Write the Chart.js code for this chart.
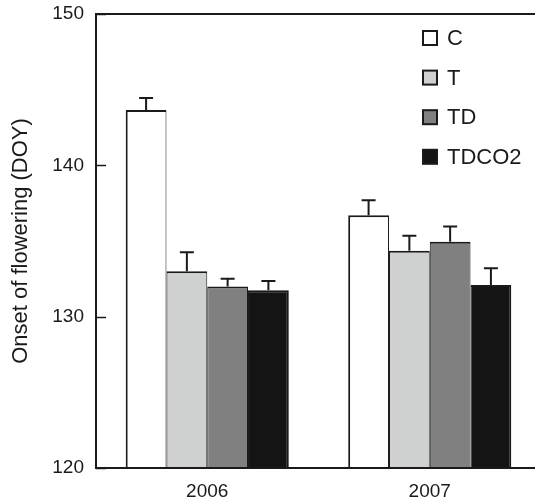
<!DOCTYPE html>
<html>
<head>
<meta charset="utf-8">
<script src="https://cdn.jsdelivr.net/npm/chart.js@4/dist/chart.umd.min.js"></script>
<style>
  html, body { margin: 0; padding: 0; background: #fff; overflow: hidden; }
  #wrap { width: 545px; height: 501px; }
</style>
</head>
<body>
<div id="wrap"><canvas id="flowering"></canvas></div>
<script>
var years = ['2006', '2007'];
var seriesNames = ['C', 'T', 'TD', 'TDCO2'];
var valC = [143.65, 136.7];
var valT = [133.0, 134.35];
var valTD = [132.0, 134.95];
var valTDCO2 = [131.75, 132.1];
var errC = [0.8, 1.0];
var errT = [1.25, 1.0];
var errTD = [0.5, 1.0];
var errTDCO2 = [0.6, 1.1];
var yTicks = [120, 130, 140, 150];

var ink = '#1a1a1a';
var font = "'Liberation Sans', Arial, sans-serif";

// error bars (upper only), drawn from the bar values through the y scale
var errorBars = {
    id: 'errorBars',
    afterDatasetsDraw: function (chart) {
        var ctx = chart.ctx;
        var y = chart.scales.y;
        ctx.save();
        ctx.strokeStyle = ink;
        ctx.lineWidth = 2;
        chart.data.datasets.forEach(function (ds, i) {
            var meta = chart.getDatasetMeta(i);
            meta.data.forEach(function (bar, j) {
                var top = y.getPixelForValue(ds.data[j] + ds.errors[j]);
                ctx.beginPath();
                ctx.moveTo(bar.x, bar.y);
                ctx.lineTo(bar.x, top);
                ctx.moveTo(bar.x - 7, top);
                ctx.lineTo(bar.x + 7, top);
                ctx.stroke();
            });
        });
        ctx.restore();
    }
};

// frame: left, top and bottom lines plus inward ticks
var frame = {
    id: 'frame',
    afterDraw: function (chart) {
        var ctx = chart.ctx;
        var a = chart.chartArea;
        var y = chart.scales.y;
        ctx.save();
        ctx.strokeStyle = ink;
        ctx.lineWidth = 2;
        ctx.beginPath();
        ctx.moveTo(chart.width, a.top);
        ctx.lineTo(a.left, a.top);
        ctx.lineTo(a.left, a.bottom);
        ctx.lineTo(chart.width, a.bottom);
        ctx.stroke();
        ctx.lineWidth = 1.5;
        yTicks.forEach(function (v) {
            var py = Math.round(y.getPixelForValue(v)) + 0.5;
            ctx.beginPath();
            ctx.moveTo(a.left, py);
            ctx.lineTo(a.left + 10, py);
            ctx.stroke();
        });
        ctx.restore();
    }
};

// legend inside the plot, top right
var boxLegend = {
    id: 'boxLegend',
    afterDraw: function (chart) {
        var ctx = chart.ctx;
        var a = chart.chartArea;
        ctx.save();
        ctx.font = '22px ' + font;
        ctx.textBaseline = 'middle';
        chart.data.datasets.forEach(function (ds, i) {
            var x = a.left + 327;
            var cy = a.top + 24 + i * 39.6;
            ctx.fillStyle = ds.backgroundColor;
            ctx.fillRect(x, cy - 7, 14, 14);
            ctx.strokeStyle = ink;
            ctx.lineWidth = 2;
            ctx.strokeRect(x, cy - 7, 14, 14);
            ctx.fillStyle = ink;
            ctx.fillText(ds.label, x + 24, cy + 1);
        });
        ctx.restore();
    }
};

var values = [valC, valT, valTD, valTDCO2];
var errors = [errC, errT, errTD, errTDCO2];
var fills = ['#ffffff', '#cfd1d0', '#808080', '#141414'];
var borders = [
    { top: 2, left: 2, right: 1 },
    { top: 2, left: 1, right: 1 },
    { top: 2, left: 1, right: 1 },
    { top: 2, left: 1, right: 2 }
];

var datasets = seriesNames.map(function (name, i) {
    return {
        label: name,
        data: values[i],
        errors: errors[i],
        backgroundColor: fills[i],
        borderColor: ink,
        borderWidth: borders[i],
        borderSkipped: 'start',
        base: 120,
        categoryPercentage: 0.733,
        barPercentage: 1
    };
});

var ctx = document.getElementById('flowering').getContext('2d');
new Chart(ctx, {
    type: 'bar',
    data: { labels: years, datasets: datasets },
    plugins: [errorBars, frame, boxLegend],
    options: {
        responsive: true,
        maintainAspectRatio: false,
        animation: false,
        layout: { padding: { top: 14, right: 4, left: 0, bottom: 0 } },
        plugins: { legend: { display: false }, tooltip: { enabled: false } },
        scales: {
            x: {
                grid: { display: false, drawTicks: false },
                border: { display: false },
                ticks: { color: ink, font: { family: font, size: 19 }, padding: 12 },
                afterFit: function (s) {
                    s.height = 33;
                    s.paddingLeft = 0;
                    s.paddingRight = 0;
                }
            },
            y: {
                min: 120,
                max: 150,
                afterBuildTicks: function (s) {
                    s.ticks = yTicks.map(function (v) { return { value: v }; });
                },
                grid: { display: false, drawTicks: false },
                border: { display: false },
                ticks: { color: ink, font: { family: font, size: 19 }, padding: 12 },
                title: {
                    display: true,
                    text: 'Onset of flowering (DOY)',
                    color: ink,
                    font: { family: font, size: 22 },
                    padding: { top: 8, bottom: 0 }
                },
                afterFit: function (s) {
                    s.width = 96;
                    s.paddingTop = 0;
                    s.paddingBottom = 0;
                }
            }
        }
    }
});
</script>
</body>
</html>
